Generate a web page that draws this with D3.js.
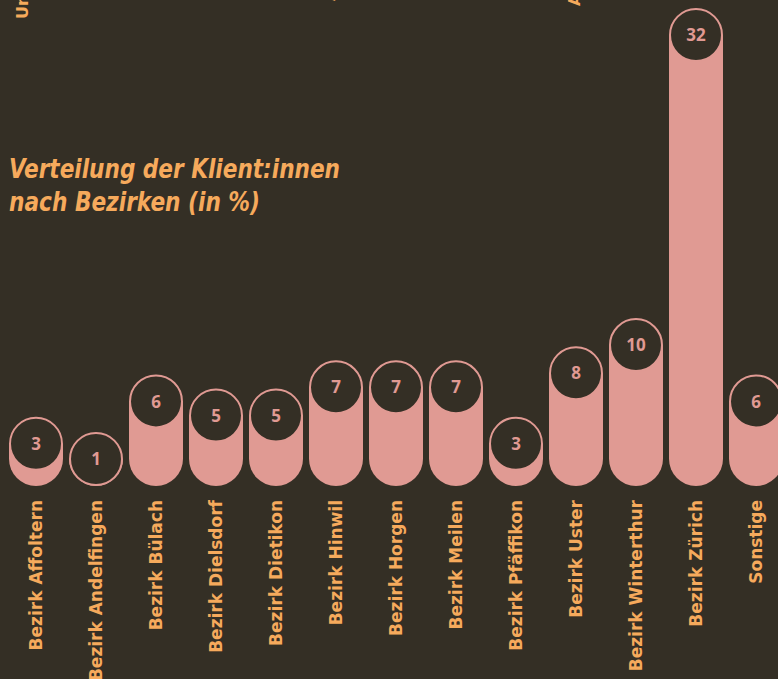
<!DOCTYPE html>
<html>
<head>
<meta charset="utf-8">
<script src="https://cdn.jsdelivr.net/npm/d3@7"></script>
<style>
  html, body { margin: 0; padding: 0; background: #342f25; overflow: hidden; }
  svg { display: block; }
</style>
</head>
<body>
<div id="chart"></div>
<script>
// data
const bezirke = ["Bezirk Affoltern", "Bezirk Andelfingen", "Bezirk Bülach", "Bezirk Dielsdorf",
    "Bezirk Dietikon", "Bezirk Hinwil", "Bezirk Horgen", "Bezirk Meilen", "Bezirk Pfäffikon",
    "Bezirk Uster", "Bezirk Winterthur", "Bezirk Zürich", "Sonstige"];
const anteile = [3, 1, 6, 5, 5, 7, 7, 7, 3, 8, 10, 32, 6];
const titelZeilen = ["Verteilung der Klient:innen", "nach Bezirken (in %)"];
// cut-off labels of the chart above
const obenLabels = ["Unbekannt", "Alter", "Ausbildung"];

const width = 778, height = 679;
const bg = "#342f25", pink = "#e09a93", orange = "#f6aa5c";
const bottom = 486, r = 26;

const svg = d3.select("#chart")
    .append("svg")
    .attr("width", width)
    .attr("height", height);

svg.append("rect").attr("width", width).attr("height", height).attr("fill", bg);

const x = d3.scaleBand()
    .domain(bezirke)
    .range([6, 786])
    .paddingInner(0.1)
    .paddingOuter(0.05);

const y = d3.scaleLinear()
    .domain([0, 32])
    .range([bottom, 35]);

// fragments from the previous section, rotated labels cut at the top
const obenX = [28, 335, 580], obenY = [19, 1, 6];
svg.selectAll(".oben")
    .data(obenLabels)
    .join("text")
    .attr("class", "oben")
    .attr("transform", (d, i) => `translate(${obenX[i]},${obenY[i]}) rotate(-90)`)
    .attr("fill", orange)
    .style("font-family", "'DejaVu Sans', sans-serif")
    .style("font-weight", "bold")
    .style("font-size", "16px")
    .text(d => d);

// title
svg.append("text")
    .attr("x", 9)
    .attr("y", 178)
    .attr("fill", orange)
    .style("font-family", "'DejaVu Sans Condensed', 'DejaVu Sans', sans-serif")
    .style("font-weight", "bold")
    .style("font-style", "italic")
    .style("font-size", "27px")
    .selectAll("tspan")
    .data(titelZeilen)
    .join("tspan")
    .attr("x", 9)
    .attr("dy", (d, i) => i ? 33 : 0)
    .attr("textLength", (d, i) => i ? 251 : 331)
    .attr("lengthAdjust", "spacingAndGlyphs")
    .text(d => d);

const w = x.bandwidth(), rr = w / 2;

// pill shaped bars, flat top hidden behind the circle
function pillPath(d, i) {
    const x0 = x(bezirke[i]);
    const top = Math.min(y(d), bottom - rr);
    const straight = bottom - rr;
    return `M${x0},${top}L${x0 + w},${top}L${x0 + w},${straight}` +
        `A${rr},${rr} 0 0 1 ${x0},${straight}Z`;
}

svg.append("g")
    .selectAll("path")
    .data(anteile)
    .join("path")
    .attr("d", pillPath)
    .attr("fill", pink);

const kreise = svg.append("g")
    .selectAll("g")
    .data(anteile)
    .join("g")
    .attr("transform", (d, i) => `translate(${x(bezirke[i]) + w / 2},${Math.min(y(d), bottom - rr)})`);

kreise.append("circle")
    .attr("r", r)
    .attr("fill", bg)
    .attr("stroke", pink)
    .attr("stroke-width", 2);

kreise.append("text")
    .attr("text-anchor", "middle")
    .attr("dy", "0.36em")
    .attr("fill", pink)
    .style("font-family", "'Noto Sans', sans-serif")
    .style("font-weight", "bold")
    .style("font-size", "17px")
    .text(d => d);

// axis labels
const xAxis = d3.axisBottom(x).tickSize(0).tickPadding(0);
const ax = svg.append("g")
    .attr("transform", `translate(0,${bottom})`)
    .call(xAxis);
ax.select(".domain").remove();
ax.selectAll("text")
    .attr("transform", "translate(0,14) rotate(-90)")
    .attr("x", 0)
    .attr("y", 0)
    .attr("dy", "0.35em")
    .attr("text-anchor", "end")
    .attr("fill", orange)
    .style("font-family", "'DejaVu Sans', sans-serif")
    .style("font-weight", "bold")
    .style("font-size", "17px");
</script>
</body>
</html>
